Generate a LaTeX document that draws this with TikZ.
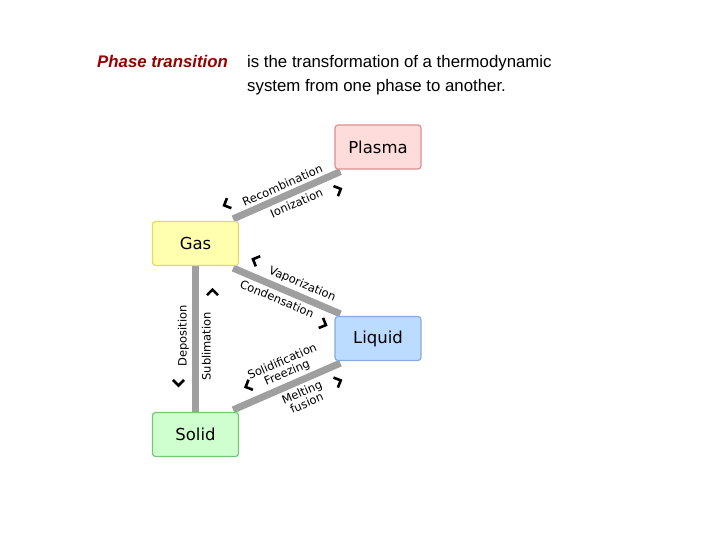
\documentclass[tikz,border=0pt]{standalone}
\usepackage{fontspec}
\setmainfont{Liberation Sans}
\newfontfamily\labelfont{DejaVu Sans}
\usetikzlibrary{positioning, backgrounds}

\definecolor{plasmafill}{HTML}{FFDCDC}
\definecolor{plasmadraw}{HTML}{DD8F8F}
\definecolor{gasfill}{HTML}{FFFFAE}
\definecolor{gasdraw}{HTML}{DDDD66}
\definecolor{liquidfill}{HTML}{BBDBFF}
\definecolor{liquiddraw}{HTML}{88AADD}
\definecolor{solidfill}{HTML}{CFFFCF}
\definecolor{soliddraw}{HTML}{77C477}
\definecolor{titlered}{HTML}{990000}

\newcommand{\chevleft}{\tikz\draw[line width=2.6pt, line join=miter] (3pt,-5.5pt) -- (-2.5pt,0pt) -- (3pt,5.5pt);}
\newcommand{\chevright}{\tikz\draw[line width=2.6pt, line join=miter] (-3pt,-5.5pt) -- (2.5pt,0pt) -- (-3pt,5.5pt);}

\begin{document}
\begin{tikzpicture}[x=1pt, y=-1pt]

% Define styles for the nodes
\tikzset{
  phase/.style={rectangle, rounded corners=3pt, line width=1.2pt, minimum height=44pt, minimum width=86pt, text centered, font=\labelfont\fontsize{16.5}{18}\selectfont},
  link/.style={line width=7pt, draw=gray!75},
  tag/.style={font=\labelfont\fontsize{11.5}{12}\selectfont, sloped, align=center, inner sep=2pt},
  chev/.style={sloped, inner sep=0pt}
}

\useasboundingbox (0,0) rectangle (720,540);

% Heading
\node (head) [anchor=base west, font=\bfseries\itshape\fontsize{16.8}{18}\selectfont, text=titlered, inner sep=0pt] at (97,68) {Phase transition};
\node (desc) [anchor=base west, font=\fontsize{16.8}{18}\selectfont, inner sep=0pt] at (247,68) {is the transformation of a thermodynamic};
\node (desc2) [anchor=base west, font=\fontsize{16.8}{18}\selectfont, inner sep=0pt] at (247,92) {system from one phase to another.};

% Nodes
\node (plasma) [phase, fill=plasmafill, draw=plasmadraw] at (378,147) {Plasma};
\node (gas) [phase, fill=gasfill, draw=gasdraw] at (195.5,243.5) {Gas};
\node (liquid) [phase, fill=liquidfill, draw=liquiddraw] at (378,338.5) {Liquid};
\node (solid) [phase, fill=solidfill, draw=soliddraw] at (195.5,434.5) {Solid};

% Connectors
\begin{scope}[on background layer]
\draw[link] ([xshift=-6pt,yshift=2pt]gas.north east) -- ([xshift=6pt,yshift=-2pt]plasma.south west)
  node[tag, pos=0.5, above=1pt] {Recombination}
  node[tag, pos=0.55, below=1pt] {Ionization}
  node[chev, pos=0.0, above=9pt] {\chevleft}
  node[chev, pos=0.92, below=9pt] {\chevright};
\draw[link] ([xshift=-6pt,yshift=-2pt]gas.south east) -- ([xshift=6pt,yshift=2pt]liquid.north west)
  node[tag, pos=0.6, above=1pt] {Vaporization}
  node[tag, pos=0.45, below=1pt] {Condensation}
  node[chev, pos=0.15, above=9pt] {\chevleft}
  node[chev, pos=0.9, below=9pt] {\chevright};
\draw[link] (solid.north) -- (gas.south)
  node[tag, pos=0.52, above=1pt] {Deposition}
  node[tag, pos=0.45, below=1pt] {Sublimation}
  node[chev, pos=0.2, above=10pt] {\chevleft}
  node[chev, pos=0.82, below=10pt] {\chevright};
\draw[link] ([xshift=-6pt,yshift=2pt]solid.north east) -- ([xshift=6pt,yshift=-2pt]liquid.south west)
  node[tag, pos=0.55, above=1pt] {Solidification\\Freezing}
  node[tag, pos=0.6, below=1pt] {Melting\\fusion}
  node[chev, pos=0.2, above=9pt] {\chevleft}
  node[chev, pos=0.92, below=9pt] {\chevright};
\end{scope}

\end{tikzpicture}
\end{document}
